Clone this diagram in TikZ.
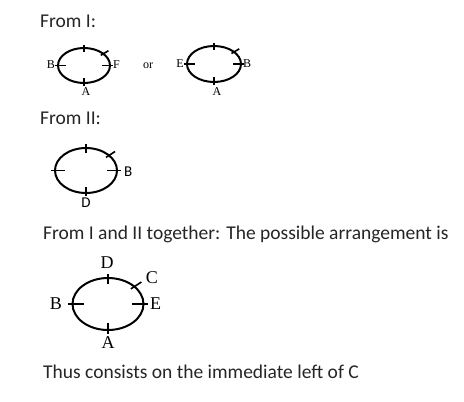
\documentclass[tikz,border=0pt]{standalone}
\usepackage{fontspec}
\setmainfont{Carlito}
\newfontfamily\labserif{Liberation Serif}
\usetikzlibrary{calc}
\tikzset{
  ring/.style={line width=2pt},
  tick/.style={line width=1.6pt},
  caption/.style={anchor=west, inner sep=0pt, font=\fontsize{19.5}{22}\selectfont, text=black!85},
  lab/.style={inner sep=0pt, font=\labserif\fontsize{12}{13}\selectfont},
  labbig/.style={inner sep=0pt, font=\labserif\fontsize{18}{19}\selectfont},
  labsans/.style={inner sep=0pt, font=\fontsize{15}{16}\selectfont},
}
% #1 cx, #2 cy, #3 rx, #4 ry, #5 angle, #6 inner length, #7 outer length
\newcommand{\rtick}[7]{%
  \draw[tick] ($({#1+#3*cos(#5)},{#2-#4*sin(#5)})!-#7!(#1,#2)$) -- ($({#1+#3*cos(#5)},{#2-#4*sin(#5)})!#6!(#1,#2)$);}
% #1 cx, #2 cy, #3 rx, #4 ry, #5 scale
\newcommand{\ring}[5]{%
  \draw[ring] (#1,#2) ellipse [x radius=#3, y radius=#4];
  \rtick{#1}{#2}{#3}{#4}{0}{#5*8pt}{#5*3pt}
  \rtick{#1}{#2}{#3}{#4}{180}{#5*8pt}{#5*3pt}
  \rtick{#1}{#2}{#3}{#4}{90}{#5*4pt}{#5*3pt}
  \rtick{#1}{#2}{#3}{#4}{270}{#5*5pt}{#5*2.5pt}
  \rtick{#1}{#2}{#3}{#4}{42}{#5*3pt}{#5*6pt}}
\begin{document}
\begin{tikzpicture}[x=1pt,y=-1pt]
\useasboundingbox[fill=white] (0,0) rectangle (464,402);
% From I
\node[caption] (t1) at (40,21) {From I:};
\ring{84}{65.5}{26}{17.5}{1}
\node[lab, anchor=east] (b1) at (55,65) {B};
\node[lab, anchor=west] (f1) at (113,65) {F};
\node[lab] (a1) at (86,92) {A};
\node[lab] (or) at (148,66) {or};
\ring{214}{64}{27}{18}{1}
\node[lab, anchor=east] (e2) at (184,64) {E};
\node[lab, anchor=west] (b2) at (243,64) {B};
\node[lab] (a2) at (217,92) {A};
% From II
\node[caption] (t2) at (40,118) {From II:};
\ring{86}{170.5}{31}{22.5}{1.2}
\node[labsans, anchor=west] (b3) at (124,172) {B};
\node[labsans] (d3) at (86,203) {D};
% Together
\node[caption] (t3) at (43,234) {From I and II together: The possible arrangement is};
\ring{108}{304}{35.5}{26}{1.4}
\node[labbig] (d4) at (107,263) {D};
\node[labbig] (cc4) at (152,278) {C};
\node[labbig, anchor=east] (b4) at (62,304) {B};
\node[labbig, anchor=west] (e4) at (150,304) {E};
\node[labbig] (a4) at (108,343) {A};
\node[caption] (t4) at (43,372) {Thus consists on the immediate left of C};
\end{tikzpicture}
\end{document}
